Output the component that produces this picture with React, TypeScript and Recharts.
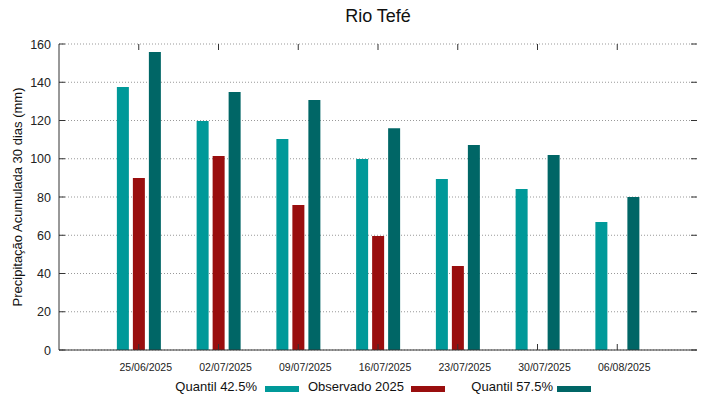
import React from 'react';
import { BarChart, Bar, XAxis, YAxis, CartesianGrid } from 'recharts';

const dates = ['25/06/2025', '02/07/2025', '09/07/2025', '16/07/2025', '23/07/2025', '30/07/2025', '06/08/2025'];
const quantil425 = [137.5, 119.7, 110.3, 99.9, 89.4, 84.2, 66.9];
const observado = [90, 101.4, 75.8, 59.6, 43.9, null, null];
const quantil575 = [155.8, 134.9, 130.7, 116, 107.2, 102, 80];
const yTicks = [0, 20, 40, 60, 80, 100, 120, 140, 160];

const data = dates.map((d, i) => ({
    date: d,
    q425: quantil425[i],
    obs: observado[i],
    q575: quantil575[i],
}));

const W = 719;
const H = 399;
const LEFT = 59;
const RIGHT = 697;
const TOP = 44;
const BOTTOM = 350;
const FONT = '"Liberation Sans", Arial, sans-serif';

const C1 = '#009999';
const C2 = '#990e0e';
const C3 = '#006666';

const YTick = (props: any) => {
    const { y, payload } = props;
    return (
        <g>
            <line x1={LEFT} x2={LEFT + 6} y1={y} y2={y} stroke="#333" />
            <line x1={RIGHT - 6} x2={RIGHT} y1={y} y2={y} stroke="#333" />
            <text x={51} y={y} dy={4.5} textAnchor="end" fontSize={12.5} fill="#222" fontFamily={FONT}>
                {payload.value}
            </text>
        </g>
    );
};

const XTick = (props: any) => {
    const { x, payload } = props;
    return (
        <g>
            <line x1={x} x2={x} y1={BOTTOM} y2={BOTTOM - 6} stroke="#333" />
            <line x1={x} x2={x} y1={TOP} y2={TOP + 6} stroke="#333" />
            <text x={x + 7} y={371} textAnchor="middle" fontSize={10.5} fill="#222" fontFamily={FONT}>
                {payload.value}
            </text>
        </g>
    );
};

const legendItems = [
    { label: 'Quantil 42.5%', color: C1, textEnd: 257, swatch: 265 },
    { label: 'Observado 2025', color: C2, textEnd: 404, swatch: 411 },
    { label: 'Quantil 57.5%', color: C3, textEnd: 553, swatch: 557 },
];

export default function App() {
    const pad = (RIGHT - LEFT) / 16;
    return (
        <div style={{ position: 'fixed', left: 0, top: 0, width: W, height: H, background: '#fff', fontFamily: FONT }}>
            <div style={{ position: 'absolute', left: 0, width: (LEFT + RIGHT), top: 6, textAlign: 'center', fontSize: 18, color: '#111' }}>
                Rio Tefé
            </div>
            <div
                style={{
                    position: 'absolute',
                    left: 17,
                    top: 197,
                    transform: 'translate(-50%, -50%) rotate(-90deg)',
                    whiteSpace: 'nowrap',
                    fontSize: 13,
                    color: '#111',
                }}
            >
                Precipitação Acumulada 30 dias (mm)
            </div>
            <BarChart
                width={W}
                height={H}
                data={data}
                margin={{ top: TOP, right: W - RIGHT, left: 0, bottom: 0 }}
                barSize={12}
                barGap={4}
            >
                <CartesianGrid vertical={false} stroke="#999" strokeDasharray="1 2" />
                <XAxis
                    dataKey="date"
                    height={H - BOTTOM}
                    padding={{ left: pad, right: pad }}
                    tick={<XTick />}
                    tickLine={false}
                    axisLine={{ stroke: '#333' }}
                    interval={0}
                />
                <XAxis
                    xAxisId="top"
                    dataKey="date"
                    orientation="top"
                    height={0}
                    tick={false}
                    tickLine={false}
                    axisLine={{ stroke: '#333' }}
                />
                <YAxis
                    domain={[0, 160]}
                    ticks={yTicks}
                    width={LEFT}
                    tick={<YTick />}
                    tickLine={false}
                    axisLine={{ stroke: '#333' }}
                    interval={0}
                />
                <YAxis
                    yAxisId="right"
                    orientation="right"
                    domain={[0, 160]}
                    width={0}
                    tick={false}
                    tickLine={false}
                    axisLine={{ stroke: '#333' }}
                />
                <Bar dataKey="q425" fill={C1} isAnimationActive={false} />
                <Bar dataKey="obs" fill={C2} isAnimationActive={false} />
                <Bar dataKey="q575" fill={C3} isAnimationActive={false} />
            </BarChart>
            {legendItems.map((it) => (
                <React.Fragment key={it.label}>
                    <div
                        style={{
                            position: 'absolute',
                            left: it.textEnd - 140,
                            width: 140,
                            top: 379,
                            textAlign: 'right',
                            fontSize: 13,
                            color: '#111',
                            whiteSpace: 'nowrap',
                        }}
                    >
                        {it.label}
                    </div>
                    <div
                        style={{
                            position: 'absolute',
                            left: it.swatch,
                            top: 386,
                            width: 34,
                            height: 6,
                            background: it.color,
                        }}
                    />
                </React.Fragment>
            ))}
        </div>
    );
}
